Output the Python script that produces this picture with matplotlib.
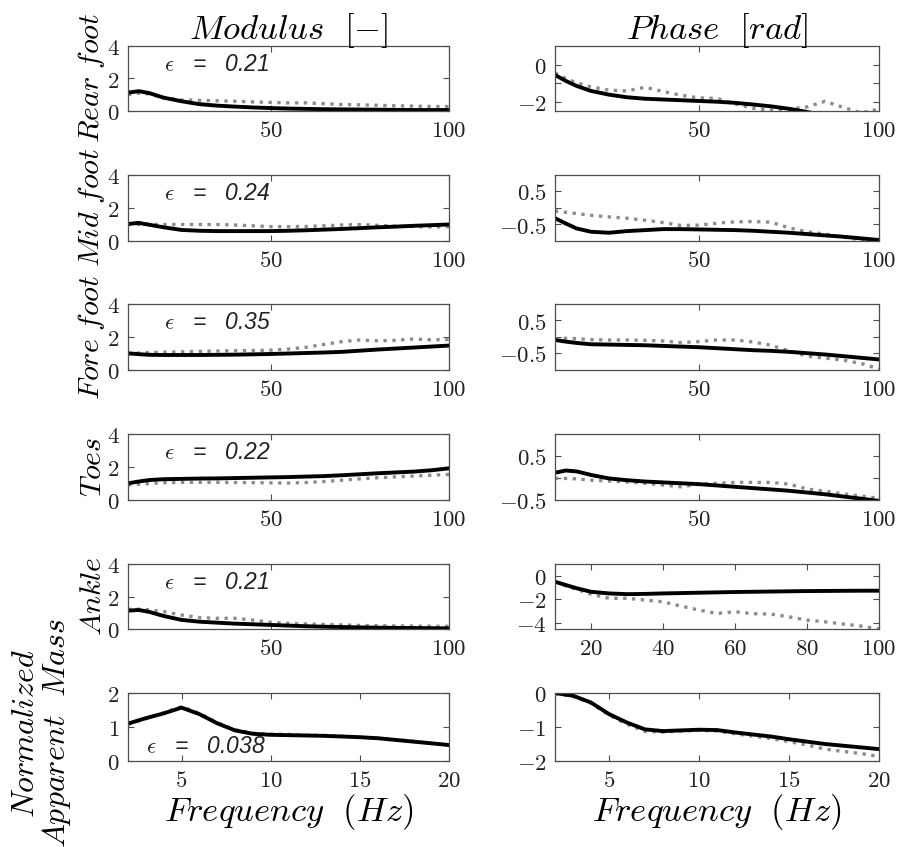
import numpy as np
import matplotlib
matplotlib.use("Agg")
import matplotlib.pyplot as plt
from matplotlib.ticker import FixedLocator, FixedFormatter

plt.rcParams["mathtext.fontset"] = "cm"
plt.rcParams["font.family"] = ["Liberation Sans", "DejaVu Sans"]

# frequency grids (Hz)
freq_hi = [10, 13, 16, 20, 25, 30, 35, 40, 45, 50, 55, 60, 65, 70, 75, 80, 85, 90, 95, 100]
freq_lo = [2, 3, 4, 5, 6, 7, 8, 9, 10, 11, 12, 13, 14, 15, 16, 17, 18, 19, 20]

row_names = ["Rear\\ foot", "Mid\\ foot", "Fore\\ foot", "Toes", "Ankle", ""]
eps_values = ["0.21", "0.24", "0.35", "0.22", "0.21", "0.038"]

# modulus, model (black) and measured (grey)
rear_mod_model = [1.13, 1.22, 1.1, 0.82, 0.6, 0.42, 0.33, 0.27, 0.22, 0.18, 0.15, 0.13, 0.11, 0.1, 0.09, 0.08, 0.07, 0.06, 0.06, 0.06]
rear_mod_meas = [1.0, 1.1, 1.05, 0.8, 0.68, 0.66, 0.63, 0.6, 0.56, 0.53, 0.5, 0.5, 0.45, 0.4, 0.38, 0.35, 0.32, 0.3, 0.28, 0.27]
mid_mod_model = [1.03, 1.1, 0.98, 0.83, 0.67, 0.62, 0.6, 0.6, 0.6, 0.6, 0.62, 0.65, 0.69, 0.73, 0.78, 0.83, 0.87, 0.92, 0.96, 1.0]
mid_mod_meas = [1.03, 1.0, 1.02, 1.0, 1.0, 1.0, 1.0, 0.97, 0.92, 0.87, 0.87, 0.88, 0.92, 0.97, 1.0, 0.95, 0.9, 0.88, 0.85, 0.87]
fore_mod_model = [1.01, 0.96, 0.92, 0.91, 0.91, 0.91, 0.92, 0.93, 0.95, 0.97, 1.0, 1.03, 1.06, 1.1, 1.17, 1.24, 1.3, 1.36, 1.42, 1.48]
fore_mod_meas = [1.0, 1.03, 1.06, 1.08, 1.1, 1.13, 1.15, 1.17, 1.18, 1.2, 1.27, 1.38, 1.55, 1.72, 1.82, 1.77, 1.8, 1.88, 1.83, 1.85]
toes_mod_model = [1.01, 1.12, 1.21, 1.26, 1.28, 1.3, 1.31, 1.33, 1.35, 1.37, 1.39, 1.42, 1.45, 1.5, 1.56, 1.62, 1.67, 1.72, 1.8, 1.92]
toes_mod_meas = [0.91, 0.96, 1.0, 1.05, 1.07, 1.07, 1.07, 1.06, 1.05, 1.04, 1.03, 1.06, 1.12, 1.2, 1.28, 1.35, 1.4, 1.45, 1.5, 1.55]
ankle_mod_model = [1.13, 1.17, 1.05, 0.8, 0.56, 0.45, 0.39, 0.33, 0.29, 0.25, 0.21, 0.17, 0.14, 0.12, 0.1, 0.08, 0.07, 0.06, 0.05, 0.04]
ankle_mod_meas = [1.21, 1.22, 1.18, 1.07, 0.86, 0.7, 0.66, 0.66, 0.55, 0.41, 0.35, 0.31, 0.28, 0.25, 0.22, 0.2, 0.19, 0.18, 0.17, 0.16]
nam_mod_model = [1.1, 1.26, 1.4, 1.57, 1.38, 1.11, 0.9, 0.8, 0.77, 0.76, 0.75, 0.74, 0.72, 0.7, 0.67, 0.62, 0.57, 0.52, 0.47]
nam_mod_meas = [1.08, 1.24, 1.42, 1.6, 1.4, 1.13, 0.92, 0.82, 0.79, 0.78, 0.76, 0.75, 0.73, 0.7, 0.67, 0.63, 0.58, 0.52, 0.46]

# phase (rad)
rear_ph_model = [-0.56, -0.88, -1.15, -1.42, -1.62, -1.76, -1.84, -1.88, -1.92, -1.96, -2.0, -2.06, -2.15, -2.25, -2.38, -2.55, -2.75, -2.95, -3.1, -3.25]
rear_ph_meas = [-0.45, -0.75, -0.98, -1.2, -1.38, -1.42, -1.22, -1.45, -1.65, -1.8, -1.82, -2.12, -2.35, -2.46, -2.4, -2.28, -1.98, -2.3, -2.6, -2.4]
mid_ph_model = [-0.31, -0.47, -0.62, -0.72, -0.75, -0.7, -0.67, -0.64, -0.64, -0.65, -0.66, -0.67, -0.69, -0.72, -0.75, -0.79, -0.83, -0.87, -0.92, -0.97]
mid_ph_meas = [-0.09, -0.13, -0.17, -0.22, -0.27, -0.31, -0.37, -0.44, -0.53, -0.52, -0.46, -0.42, -0.41, -0.43, -0.6, -0.72, -0.79, -0.88, -0.97, -1.02]
fore_ph_model = [-0.09, -0.14, -0.18, -0.22, -0.23, -0.24, -0.25, -0.27, -0.29, -0.31, -0.34, -0.37, -0.4, -0.42, -0.45, -0.49, -0.53, -0.58, -0.63, -0.68]
fore_ph_meas = [-0.06, -0.04, -0.05, -0.08, -0.09, -0.09, -0.1, -0.12, -0.17, -0.14, -0.09, -0.09, -0.15, -0.25, -0.42, -0.58, -0.64, -0.7, -0.8, -0.97]
toes_ph_model = [0.12, 0.17, 0.15, 0.07, -0.01, -0.05, -0.08, -0.1, -0.12, -0.14, -0.17, -0.2, -0.23, -0.26, -0.29, -0.33, -0.37, -0.42, -0.47, -0.52]
toes_ph_meas = [-0.01, -0.01, -0.02, -0.05, -0.07, -0.09, -0.12, -0.16, -0.2, -0.14, -0.12, -0.1, -0.1, -0.1, -0.14, -0.25, -0.3, -0.36, -0.41, -0.46]
ankle_ph_model = [-0.5, -0.78, -1.05, -1.35, -1.49, -1.55, -1.53, -1.49, -1.46, -1.43, -1.4, -1.37, -1.35, -1.33, -1.31, -1.29, -1.28, -1.27, -1.26, -1.26]
ankle_ph_meas = [-0.5, -0.85, -1.15, -1.55, -1.9, -1.9, -2.05, -2.2, -2.56, -2.9, -3.18, -3.04, -3.2, -3.24, -3.47, -3.75, -3.89, -4.08, -4.25, -4.5]
nam_ph_model = [0.0, -0.08, -0.28, -0.62, -0.87, -1.07, -1.12, -1.1, -1.08, -1.09, -1.16, -1.22, -1.28, -1.36, -1.43, -1.5, -1.55, -1.6, -1.65]
nam_ph_meas = [-0.02, -0.1, -0.3, -0.65, -0.92, -1.13, -1.15, -1.12, -1.1, -1.12, -1.2, -1.27, -1.34, -1.43, -1.53, -1.65, -1.72, -1.78, -1.87]

mod_model = [rear_mod_model, mid_mod_model, fore_mod_model, toes_mod_model, ankle_mod_model, nam_mod_model]
mod_meas = [rear_mod_meas, mid_mod_meas, fore_mod_meas, toes_mod_meas, ankle_mod_meas, nam_mod_meas]
ph_model = [rear_ph_model, mid_ph_model, fore_ph_model, toes_ph_model, ankle_ph_model, nam_ph_model]
ph_meas = [rear_ph_meas, mid_ph_meas, fore_ph_meas, toes_ph_meas, ankle_ph_meas, nam_ph_meas]

# axis setup per row: (ylim, yticks, yticklabels)
mod_axis = [((0, 4), [0, 2, 4], ["0", "2", "4"])] * 5 + [((0, 2), [0, 1, 2], ["0", "1", "2"])]
ph_axis = [
    ((-2.5, 1), [-2, -1, 0], ["-2", "", "0"]),
    ((-1, 1), [-0.5, 0, 0.5], ["-0.5", "", "0.5"]),
    ((-1, 1), [-0.5, 0, 0.5], ["-0.5", "", "0.5"]),
    ((-0.5, 1), [-0.5, 0, 0.5], ["-0.5", "", "0.5"]),
    ((-4.5, 1), [-4, -2, 0], ["-4", "-2", "0"]),
    ((-2, 0), [-2, -1, 0], ["-2", "-1", "0"]),
]

W, H = 900, 847
row_px = [(46, 111), (175, 241), (304, 370), (434, 500), (564, 629), (693, 761)]
left_px = (128, 449)
right_px = (555, 879)

GREY = (0.55, 0.55, 0.55)
EDGE = (0.3, 0.3, 0.3)


def make_axes(fig, xpx, ypx):
    return fig.add_axes([xpx[0] / W, 1 - ypx[1] / H, (xpx[1] - xpx[0]) / W, (ypx[1] - ypx[0]) / H])


def style_axes(ax, xlim, xticks, ylim, yticks, ylabels):
    ax.set_xlim(*xlim)
    ax.set_ylim(*ylim)
    ax.xaxis.set_major_locator(FixedLocator(xticks))
    ax.xaxis.set_major_formatter(FixedFormatter(["$%g$" % t for t in xticks]))
    ax.yaxis.set_major_locator(FixedLocator(yticks))
    ax.yaxis.set_major_formatter(FixedFormatter(["$%s$" % l if l else "" for l in ylabels]))
    ax.tick_params(direction="in", length=4, width=0.8, color=EDGE, labelsize=16.5,
                   top=True, right=True, pad=6, labelcolor="#222222")
    for s in ax.spines.values():
        s.set_color(EDGE)
        s.set_linewidth(0.9)


def eps_text(ax, x, y, value):
    ax.text(x, y, "$\\epsilon$   =   " + value, fontsize=16.5, style="italic",
            color="#222222", va="center", ha="left")


fig = plt.figure(figsize=(W / 100, H / 100), dpi=100)

for i in range(6):
    low = i == 5
    f = freq_lo if low else freq_hi
    xlim = (2, 20) if low else (10, 100)
    xticks = [5, 10, 15, 20] if low else [50, 100]

    ax = make_axes(fig, left_px, row_px[i])
    ax.plot(f, mod_meas[i], ls=":", color=GREY, lw=2.4)
    ax.plot(f, mod_model[i], color="black", lw=2.8)
    style_axes(ax, xlim, xticks, *mod_axis[i])
    if low:
        eps_text(ax, 3.0, 0.44, eps_values[i])
        ax.set_xlabel("$Frequency\\ \\ (Hz)$", fontsize=25, labelpad=0)
    else:
        eps_text(ax, 20, 2.85, eps_values[i])
        ax.set_ylabel("$%s$" % row_names[i], fontsize=21.5, labelpad=0)
    if i == 0:
        ax.set_title("$Modulus\\ \\ [-]$", fontsize=25, pad=5)

    ax = make_axes(fig, right_px, row_px[i])
    ax.plot(f, ph_meas[i], ls=":", color=GREY, lw=2.4)
    ax.plot(f, ph_model[i], color="black", lw=2.8)
    if i == 4:
        style_axes(ax, xlim, [20, 40, 60, 80, 100], *ph_axis[i])
    else:
        style_axes(ax, xlim, xticks, *ph_axis[i])
    if low:
        ax.set_xlabel("$Frequency\\ \\ (Hz)$", fontsize=25, labelpad=0)
    if i == 0:
        ax.set_title("$Phase\\ \\ [rad]$", fontsize=25, pad=5)

fig.text(42 / W, 1 - 733 / H, "$Normalized$\n$Apparent\\ \\ Mass$", rotation=90,
         fontsize=23, ha="center", va="center", multialignment="center", linespacing=0.95)

fig.savefig("out.png", dpi=100)
